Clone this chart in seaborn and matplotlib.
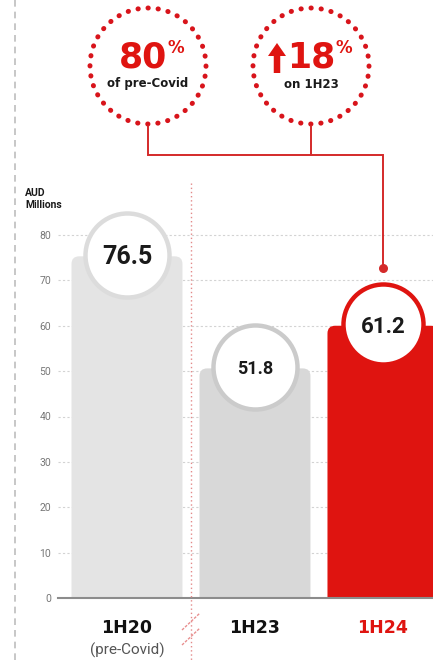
import matplotlib
matplotlib.use("Agg")
import matplotlib.pyplot as plt
import seaborn as sns
import pandas as pd
from matplotlib.patches import FancyBboxPatch, Circle, FancyArrow

# ---------------- data ----------------
periods = ["1H20", "1H23", "1H24"]
subtitles = ["(pre-Covid)", "", ""]
revenue = [76.5, 51.8, 61.2]
yticks = [0, 10, 20, 30, 40, 50, 60, 70, 80]
callout_big = ["80", "18"]
callout_small = ["of pre-Covid", "on 1H23"]
unit_label = "AUD\nMillions"

# ---------------- styles ----------------
RED = "#df1410"
bar_colors = ["#e4e4e4", "#d8d8d8", RED]
ring_colors = ["#dcdcdc", "#cbcbcb", RED]
label_colors = ["#111111", "#111111", RED]
value_sizes = [18, 13, 16]

sns.set_theme(style="white")
plt.rcParams['font.family'] = ['Roboto', 'DejaVu Sans']

W, H = 433, 661
fig = plt.figure(figsize=(W / 100, H / 100), dpi=100)

# main axes geometry (pixels)
y0_px = 598
px_per_unit = 4.5375
ytop = 90
top_px = y0_px - ytop * px_per_unit
left_px = 58
ax = fig.add_axes([left_px / W, (H - y0_px) / H, (W - left_px) / W, (y0_px - top_px) / H])

df = pd.DataFrame({"period": periods, "value": revenue})
sns.barplot(data=df, x="period", y="value", hue="period", palette=bar_colors,
            width=0.867, legend=False, ax=ax, saturation=1)

# rounded top corners
for p in list(ax.patches):
    x, w, h = p.get_x(), p.get_width(), p.get_height()
    fc = p.get_facecolor()
    p.remove()
    ax.add_patch(FancyBboxPatch((x, -5), w, h + 5 - 1.2,
                                boxstyle="round,pad=0,rounding_size=0.06",
                                mutation_aspect=28, fc=fc, ec="none", zorder=2))

ax.set_xlim(-0.539, 2.391)
ax.set_ylim(0, ytop)
ax.set_yticks(yticks)
ax.yaxis.grid(True, color="#d3d3d3", linestyle=(0, (2, 2)), lw=0.8)
ax.xaxis.grid(False)
ax.set_axisbelow(True)
for s in ["top", "right", "left"]:
    ax.spines[s].set_visible(False)
ax.spines["bottom"].set_color("#8c8c8c")
ax.spines["bottom"].set_linewidth(1.5)
ax.spines["bottom"].set_zorder(3)
ax.tick_params(axis="y", labelsize=7.5, labelcolor="#777777", length=0, pad=5)
ax.tick_params(axis="x", length=0)
ax.set_xticklabels([])
ax.set_xlabel("")
ax.set_ylabel("")

# value circles
for i, v in enumerate(revenue):
    size = 3660 if i < 2 else 3320
    ax.scatter([i], [v - 0.9], s=size, facecolor="white", edgecolor=ring_colors[i],
               linewidth=3.2, zorder=3, clip_on=False)
    ax.text(i, v - 0.9, f"{v:.1f}", ha="center", va="center_baseline",
            fontsize=value_sizes[i], fontweight="bold", color="#1a1a1a", zorder=4)

# category labels
trans = ax.get_xaxis_transform()
axh = y0_px - top_px
for i, (lab, sub) in enumerate(zip(periods, subtitles)):
    ax.text(i, -(628 - y0_px) / axh, lab, transform=trans, ha="center", va="center",
            fontsize=12.5, fontweight="bold", color=label_colors[i],
            family=["DejaVu Sans"])
    if sub:
        ax.text(i, -(650 - y0_px) / axh, sub, transform=trans, ha="center", va="center",
                fontsize=11, color="#555555")

# ---------------- overlay (pixel coords) ----------------
ov = fig.add_axes([0, 0, 1, 1], zorder=5)
ov.set_xlim(0, W)
ov.set_ylim(H, 0)
ov.axis("off")
ov.patch.set_alpha(0)

# left dashed border
ov.plot([15, 15], [0, H], color="#bdbdbd", lw=1.2, ls=(0, (4, 3)))

# divider and break marks
ov.plot([191, 191], [183, H], color="#e38a8a", lw=1, ls=(0, (1, 2)))
ov.plot([182, 200], [630, 613], color="#e88f8f", lw=1, ls=(0, (2, 1)))
ov.plot([182, 200], [645, 628], color="#e88f8f", lw=1, ls=(0, (2, 1)))

# unit label
ov.text(25, 199, unit_label, ha="left", va="center", fontsize=7.5,
        fontweight="bold", color="#1a1a1a", linespacing=1.2)

# callout circles
centers = [148, 311]
for cx in centers:
    c = Circle((cx, 66), 58, fill=False, ec="#d8141b", lw=3.6,
               ls=(0, (0.05, 1.975)), capstyle="round")
    ov.add_patch(c)

# left callout: "80%"
ov.text(167, 58, callout_big[0], ha="right", va="center", fontsize=25,
        fontweight="bold", color=RED, family=["DejaVu Sans"])
ov.text(168, 48, "%", ha="left", va="center", fontsize=12,
        fontweight="bold", color=RED, family=["DejaVu Sans"])
ov.text(148, 84, callout_small[0], ha="center", va="center", fontsize=8.5,
        fontweight="bold", color="#1a1a1a", family=["DejaVu Sans"])

# right callout: arrow + "18%"
ov.add_patch(FancyArrow(277, 73, 0, -30, width=6.5, head_width=18, head_length=13,
                        length_includes_head=True, color=RED, lw=0))
ov.text(287, 58, callout_big[1], ha="left", va="center", fontsize=25,
        fontweight="bold", color=RED, family=["DejaVu Sans"])
ov.text(335, 48, "%", ha="left", va="center", fontsize=12,
        fontweight="bold", color=RED, family=["DejaVu Sans"])
ov.text(311, 84, callout_small[1], ha="center", va="center", fontsize=8.5,
        fontweight="bold", color="#1a1a1a", family=["DejaVu Sans"])

# connector
CON = "#d42a2a"
ov.plot([148, 148, 383, 383], [126, 155, 155, 268], color=CON, lw=1.4,
        solid_joinstyle="miter")
ov.plot([311, 311], [126, 155], color=CON, lw=1.4)
ov.scatter([383], [268], s=30, color=CON, zorder=6)

fig.savefig("out.png", dpi=100)
